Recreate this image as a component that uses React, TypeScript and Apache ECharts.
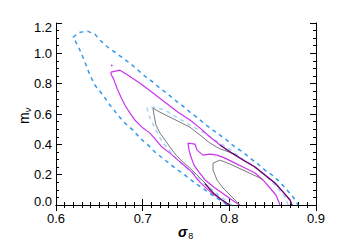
import React, { useEffect, useRef } from "react";
import * as echarts from "echarts";

// x: sigma_8, y: m_nu
const xTicks = [0.6, 0.7, 0.8, 0.9];
const yTicks = [0.0, 0.2, 0.4, 0.6, 0.8, 1.0, 1.2];

// outer dashed (blue) contour
const outerDashed: number[][] = [
  [0.7965, 0], [0.795, 0.013], [0.7835, 0.053], [0.772, 0.099], [0.7604, 0.145], [0.7488, 0.197],
  [0.7373, 0.244], [0.7258, 0.296], [0.7142, 0.349], [0.7062, 0.395], [0.6969, 0.441],
  [0.6888, 0.494], [0.6796, 0.54], [0.6715, 0.592], [0.6623, 0.658], [0.6542, 0.724],
  [0.645, 0.79], [0.6392, 0.856], [0.6335, 0.941], [0.6277, 1.02], [0.6219, 1.086],
  [0.6196, 1.106], [0.6277, 1.139], [0.6369, 1.145], [0.645, 1.126], [0.6508, 1.086],
  [0.66, 1.04], [0.6681, 1.007], [0.6773, 0.968], [0.6854, 0.935], [0.6946, 0.889],
  [0.7027, 0.849], [0.7119, 0.81], [0.72, 0.77], [0.7292, 0.731], [0.7373, 0.691],
  [0.7465, 0.652], [0.7546, 0.612], [0.7638, 0.573], [0.7719, 0.533], [0.7811, 0.494],
  [0.7892, 0.461], [0.7985, 0.421], [0.8065, 0.382], [0.8158, 0.349], [0.8238, 0.309],
  [0.8331, 0.27], [0.8411, 0.23], [0.8492, 0.198], [0.8585, 0.151], [0.8665, 0.099],
  [0.8735, 0.053], [0.878, 0.013], [0.8792, 0],
];

// inner dashed (light blue) contour
const innerDashed: number[][] = [
  [0.8031, 0], [0.7892, 0.059], [0.7777, 0.112], [0.7662, 0.165], [0.7569, 0.217],
  [0.7465, 0.263], [0.7373, 0.316], [0.7281, 0.375], [0.72, 0.441], [0.7142, 0.507],
  [0.7085, 0.573], [0.705, 0.639], [0.7142, 0.645], [0.7258, 0.625], [0.7408, 0.573],
  [0.7546, 0.527], [0.7696, 0.481], [0.7835, 0.428], [0.7985, 0.375], [0.8123, 0.316],
  [0.8262, 0.263], [0.8411, 0.198], [0.8527, 0.132], [0.8642, 0.053], [0.868, 0],
];

// outer magenta contour
const outerMagenta: number[][] = [
  [0.8008, 0], [0.7915, 0.033], [0.7811, 0.072], [0.7719, 0.118], [0.7638, 0.164],
  [0.7569, 0.217], [0.7488, 0.257], [0.7408, 0.296], [0.7315, 0.342], [0.7223, 0.382],
  [0.7154, 0.428], [0.7085, 0.474], [0.6992, 0.513], [0.6912, 0.559], [0.6854, 0.606],
  [0.6796, 0.658], [0.675, 0.711], [0.6704, 0.77], [0.6665, 0.83], [0.6635, 0.862],
  [0.6635, 0.876], [0.6738, 0.889], [0.6831, 0.856], [0.6969, 0.803], [0.7108, 0.744],
  [0.7258, 0.678], [0.7408, 0.612], [0.7546, 0.56], [0.7662, 0.507], [0.7777, 0.448],
  [0.7892, 0.395], [0.8031, 0.342], [0.8158, 0.296], [0.8296, 0.25], [0.8411, 0.198],
  [0.8527, 0.145], [0.8619, 0.086], [0.87, 0.033], [0.8723, 0],
];
const magentaDot: number[][] = [[0.6642, 0.914], [0.6645, 0.926]];

// inner magenta contour
const innerMagenta: number[][] = [
  [0.8123, 0], [0.8065, 0.02], [0.795, 0.066], [0.7835, 0.112], [0.772, 0.165], [0.765, 0.217],
  [0.7592, 0.263], [0.7558, 0.316], [0.7535, 0.362], [0.7523, 0.408], [0.7604, 0.402],
  [0.7627, 0.362], [0.7696, 0.329], [0.7777, 0.336], [0.7858, 0.329], [0.795, 0.309],
  [0.8065, 0.276], [0.8181, 0.244], [0.8296, 0.211], [0.8388, 0.165], [0.8469, 0.112],
  [0.8538, 0.066], [0.8585, 0],
];

// grey contours
const grey1: number[][] = [
  [0.7985, 0], [0.7915, 0.033], [0.7811, 0.086], [0.7719, 0.145], [0.7627, 0.198],
  [0.7546, 0.244], [0.7465, 0.283], [0.7385, 0.329], [0.7315, 0.382], [0.7258, 0.428],
  [0.72, 0.474], [0.7154, 0.527], [0.7131, 0.592], [0.7119, 0.639], [0.72, 0.612],
  [0.7315, 0.579], [0.7431, 0.546], [0.7546, 0.513], [0.7662, 0.461], [0.7777, 0.408],
  [0.7892, 0.37], [0.8031, 0.342],
];
const grey2: number[][] = [
  [0.8112, 0], [0.8077, 0.026], [0.8008, 0.066], [0.7927, 0.112], [0.7858, 0.165],
  [0.7812, 0.23], [0.7812, 0.276], [0.7892, 0.296], [0.8008, 0.27], [0.8181, 0.224],
  [0.8331, 0.184], [0.8388, 0.165],
];

// dark purple overlapping segments
const purpleUpper: number[][] = [
  [0.7892, 0.395], [0.8031, 0.342], [0.8158, 0.296], [0.8296, 0.25], [0.8411, 0.198],
  [0.8527, 0.145], [0.8619, 0.086], [0.87, 0.033], [0.8723, 0],
];
const purpleLower: number[][] = [
  [0.7719, 0.14], [0.7811, 0.08], [0.7915, 0.033], [0.8003, 0],
];

const FONT = "'Liberation Sans', Arial, Helvetica, sans-serif";

function line(data: number[][], color: string, width: number, dash?: number[]) {
  return {
    type: "line",
    data,
    showSymbol: false,
    symbol: "none",
    smooth: false,
    clip: true,
    silent: true,
    lineStyle: { color, width, type: dash ? dash : "solid" },
  };
}

export default function App() {
  const ref = useRef<HTMLDivElement>(null);
  useEffect(() => {
    if (!ref.current) return;
    const chart = echarts.init(ref.current, undefined, { renderer: "svg" });
    const tickCommon = {
      axisLine: { show: true, lineStyle: { color: "#000", width: 1 } },
      axisTick: { show: true, inside: true, length: 6, lineStyle: { color: "#000" } },
      minorTick: { show: true, length: 3, lineStyle: { color: "#000" } },
      splitLine: { show: false },
      minorSplitLine: { show: false },
    };
    const xBase = { type: "value", min: xTicks[0], max: xTicks[xTicks.length - 1], interval: 0.1 };
    const yBase = { type: "value", min: yTicks[0], max: yTicks[yTicks.length - 1], interval: 0.2 };
    const lblStyle = { fontSize: 13, fontFamily: FONT, color: "#000" };
    chart.setOption({
      animation: false,
      backgroundColor: "#fff",
      grid: { left: 56, right: 21, top: 23, bottom: 45, containLabel: false },
      xAxis: [
        {
          ...xBase,
          position: "bottom",
          ...tickCommon,
          minorTick: { ...tickCommon.minorTick, splitNumber: 10 },
          axisLabel: { ...lblStyle, margin: 7, formatter: (v: number) => v.toFixed(1) },
        },
        {
          ...xBase,
          position: "top",
          ...tickCommon,
          minorTick: { ...tickCommon.minorTick, splitNumber: 10 },
          axisLabel: { show: false },
        },
      ],
      yAxis: [
        {
          ...yBase,
          position: "left",
          ...tickCommon,
          minorTick: { ...tickCommon.minorTick, splitNumber: 4 },
          axisLabel: {
            ...lblStyle,
            margin: 4,
            formatter: (v: number) => {
              const s = v.toFixed(1);
              if (Math.abs(v - yTicks[0]) < 1e-9) return "{lo|" + s + "}";
              if (Math.abs(v - yTicks[yTicks.length - 1]) < 1e-9) return "{hi|" + s + "}";
              return s;
            },
            rich: {
              lo: { ...lblStyle, padding: [0, 0, 8, 0] },
              hi: { ...lblStyle, padding: [9, 0, 0, 0] },
            },
          },
        },
        {
          ...yBase,
          position: "right",
          ...tickCommon,
          minorTick: { ...tickCommon.minorTick, splitNumber: 4 },
          axisLabel: { show: false },
        },
      ],
      graphic: [
        {
          type: "text",
          left: 178,
          top: 225,
          style: {
            text: "{s|σ}{b|8}",
            rich: {
              s: { fontSize: 14, fontWeight: "bold", fontStyle: "italic", fontFamily: FONT, fill: "#000" },
              b: { fontSize: 9, fontFamily: FONT, fill: "#000", padding: [7, 0, 0, 1] },
            },
          },
        },
        {
          type: "text",
          x: 16,
          y: 124,
          rotation: Math.PI / 2,
          style: {
            text: "{m|m}{n|ν}",
            rich: {
              m: { fontSize: 14, fontFamily: FONT, fill: "#000" },
              n: { fontSize: 9, fontStyle: "italic", fontFamily: FONT, fill: "#000", padding: [7, 0, 0, 0] },
            },
          },
        },
      ],
      series: [
        line(outerDashed, "#3399ee", 1.5, [4, 4]),
        line(innerDashed, "#a6d2f5", 1.5, [4, 4]),
        line(outerMagenta, "#cc33ee", 1.2),
        line(magentaDot, "#cc33ee", 1.5),
        line(innerMagenta, "#cc33ee", 1.2),
        line(grey1, "#7a7a7a", 1),
        line(grey2, "#7a7a7a", 1),
        line(purpleUpper, "#661166", 1.2),
        line(purpleLower, "#661166", 1.2),
      ],
    });
    return () => chart.dispose();
  }, []);
  return (
    <div
      ref={ref}
      style={{ position: "fixed", left: 0, top: 0, width: 337, height: 250, background: "#fff" }}
    />
  );
}
